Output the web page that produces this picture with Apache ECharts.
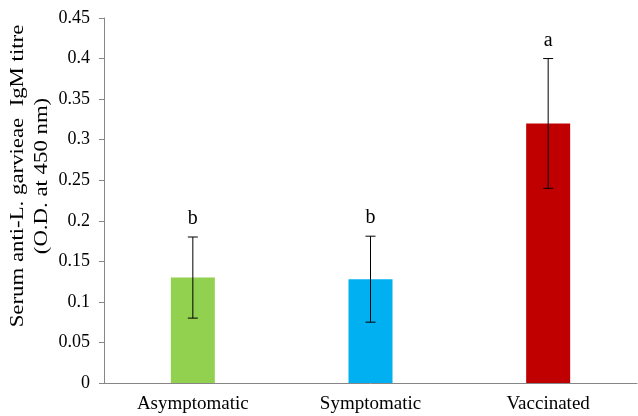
<!DOCTYPE html>
<html><head><meta charset="utf-8">
<script src="https://cdn.jsdelivr.net/npm/echarts@6/dist/echarts.min.js"></script>
<style>html,body{margin:0;padding:0;background:#fff}#c{width:638px;height:416px}</style>
</head><body><div id="c"></div>
<script>
var categories = ['Asymptomatic', 'Symptomatic', 'Vaccinated'];
var means = [0.130, 0.128, 0.320];
var errors = [0.050, 0.053, 0.080];
var letters = ['b', 'b', 'a'];
var colors = ['#92D050', '#00B0F0', '#C00000'];
var yTicks = [0, 0.05, 0.1, 0.15, 0.2, 0.25, 0.3, 0.35, 0.4, 0.45];
var yTitle = ['Serum anti-L. garvieae  IgM titre', '(O.D. at 450 nm)'];

var font = 'Liberation Serif, Times New Roman, serif';
var chart = echarts.init(document.getElementById('c'));
var errData = categories.map(function (c, i) { return [i, means[i] - errors[i], means[i] + errors[i]]; });
chart.setOption({
  animation: false,
  grid: { left: 104, right: 1, top: 18, bottom: 33, outerBoundsMode: 'none', containLabel: false },
  graphic: [{
    type: 'text', x: 30, y: 176, rotation: Math.PI / 2, scaleX: 1.2, scaleY: 1,
    style: { text: yTitle.join('\n'), fill: '#000', font: '19px ' + font, align: 'center', verticalAlign: 'middle', lineHeight: 24 }
  }],
  xAxis: {
    type: 'category', data: categories,
    axisLine: { lineStyle: { color: '#868686', width: 1 } },
    axisTick: { show: false },
    axisLabel: { color: '#000', fontFamily: font, fontSize: 19, margin: 12 }
  },
  yAxis: {
    type: 'value', min: 0, max: 0.45, interval: 0.05,
    axisLine: { show: true, lineStyle: { color: '#868686', width: 1 } },
    axisTick: { show: true, length: 5, lineStyle: { color: '#868686' } },
    splitLine: { show: false },
    axisLabel: {
      color: '#000', fontFamily: font, fontSize: 18, margin: 14,
      formatter: function (v) { var r = Math.round(v * 100) / 100; return yTicks.indexOf(r) >= 0 ? String(r) : ''; }
    }
  },
  series: [{
    type: 'bar', barWidth: 44,
    data: means.map(function (v, i) { return { value: v, itemStyle: { color: colors[i] } }; })
  }, {
    type: 'custom', data: errData,
    renderItem: function (params, api) {
      var x = api.coord([api.value(0), 0])[0];
      var lo = api.coord([api.value(0), api.value(1)])[1];
      var hi = api.coord([api.value(0), api.value(2)])[1];
      var cap = 5;
      var st = { stroke: '#000', lineWidth: 1 };
      return {
        type: 'group', children: [
          { type: 'line', shape: { x1: x, y1: lo, x2: x, y2: hi }, style: st },
          { type: 'line', shape: { x1: x - cap, y1: lo, x2: x + cap, y2: lo }, style: st },
          { type: 'line', shape: { x1: x - cap, y1: hi, x2: x + cap, y2: hi }, style: st },
          { type: 'text', style: { x: x, y: hi - 18, text: letters[params.dataIndex], fill: '#000', font: '20px ' + font, align: 'center', verticalAlign: 'middle' } }
        ]
      };
    },
    z: 10
  }]
});
</script></body></html>
